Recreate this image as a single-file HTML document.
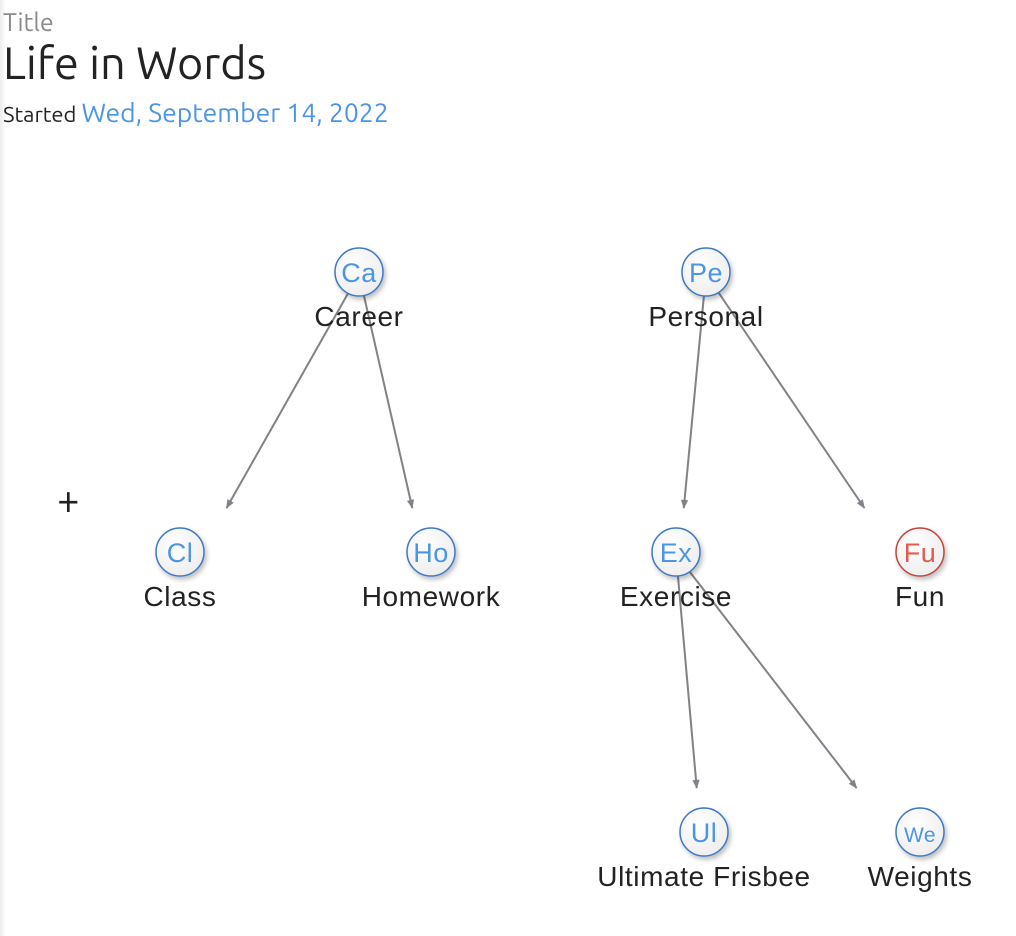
<!DOCTYPE html>
<html><head><meta charset="utf-8"><style>
html,body{margin:0;padding:0;background:#fff;width:1016px;height:936px;overflow:hidden;font-family:"Ubuntu","Liberation Sans",sans-serif;}
#edge{position:absolute;left:0;top:0;width:6px;height:936px;background:linear-gradient(to right,#ececec,#fff);}
.t1{position:absolute;left:3px;top:8px;font-size:25px;color:#8a8a8a;}
.t2{position:absolute;left:3px;top:37px;font-size:45px;color:#222;}
.t3{position:absolute;left:3px;top:98px;font-size:22px;color:#222;}
.t3 span{color:#4a95e6;font-size:26.5px;}
#plus{position:absolute;left:57px;top:480px;font-size:40px;color:#222;line-height:40px;}
</style></head><body>
<div id="edge"></div>
<div class="t1">Title</div>
<div class="t2">Life in Words</div>
<div class="t3">Started <span>Wed, September 14, 2022</span></div>
<div id="plus">+</div>
<svg id="g" width="1016" height="936" style="position:absolute;left:0;top:0">
<defs>
<marker id="ah" viewBox="0 0 10 10" refX="9" refY="5" markerWidth="11" markerHeight="9" markerUnits="userSpaceOnUse" orient="auto"><path d="M0,1L10,5L0,9z" fill="#818187"/></marker>
<radialGradient id="cf" cx="40%" cy="35%" r="70%"><stop offset="0" stop-color="#fff"/><stop offset="1" stop-color="#ededed"/></radialGradient>
<filter id="sh" x="-50%" y="-50%" width="200%" height="200%"><feDropShadow dx="2" dy="3" stdDeviation="2.5" flood-color="#000" flood-opacity="0.25"/></filter>
</defs>
</svg>
<script>
const ids=['Ca','Pe','Cl','Ho','Ex','Fu','Ul','We'];
const labels=['Career','Personal','Class','Homework','Exercise','Fun','Ultimate Frisbee','Weights'];
const xs=[359,706,180,431,676,920,704,920];
const ys=[272,272,552,552,552,552,832,832];
const reds=[false,false,false,false,false,true,false,false];
const edgeFrom=['Ca','Ca','Pe','Pe','Ex','Ex'];
const edgeTo=['Cl','Ho','Ex','Fu','Ul','We'];
const svg=document.getElementById('g');const NS='http://www.w3.org/2000/svg';
edgeFrom.forEach((f,i)=>{const a=ids.indexOf(f),b=ids.indexOf(edgeTo[i]);
 const x1=xs[a],y1=ys[a]+2;
 const ex=xs[b]+0.26*(xs[a]-xs[b]),ey=ys[b]-44;
 const l=document.createElementNS(NS,'line');
 
 
 l.setAttribute('x1',x1);l.setAttribute('y1',y1);l.setAttribute('x2',ex);l.setAttribute('y2',ey);
 l.setAttribute('stroke','#818187');l.setAttribute('stroke-width','2');l.setAttribute('marker-end','url(#ah)');svg.appendChild(l);});
ids.forEach((id,i)=>{const g=document.createElementNS(NS,'g');
 
 
 const col=reds[i]?'#e05a4f':'#4a95e6',bd=reds[i]?'#c0453b':'#3d78c2';
 const c=document.createElementNS(NS,'circle');c.setAttribute('cx',xs[i]);c.setAttribute('cy',ys[i]);c.setAttribute('r',24);
 c.setAttribute('fill','url(#cf)');c.setAttribute('stroke',bd);c.setAttribute('stroke-width','1.5');c.setAttribute('filter','url(#sh)');g.appendChild(c);
 const t=document.createElementNS(NS,'text');t.setAttribute('x',xs[i]);t.setAttribute('y',ys[i]+10);t.setAttribute('text-anchor','middle');
 t.setAttribute('font-size',id==='We'?'21':'27');t.setAttribute('fill',col);t.setAttribute('font-family','"Liberation Sans",sans-serif');t.setAttribute('letter-spacing','0.5');t.textContent=id;g.appendChild(t);
 const lb=document.createElementNS(NS,'text');lb.setAttribute('x',xs[i]);lb.setAttribute('y',ys[i]+54);lb.setAttribute('text-anchor','middle');
 lb.setAttribute('font-size','28');lb.setAttribute('letter-spacing','0.6');lb.setAttribute('fill','#222');lb.setAttribute('font-family','"Liberation Sans",sans-serif');lb.textContent=labels[i];g.appendChild(lb);
 svg.appendChild(g);});
</script>
</body></html>
